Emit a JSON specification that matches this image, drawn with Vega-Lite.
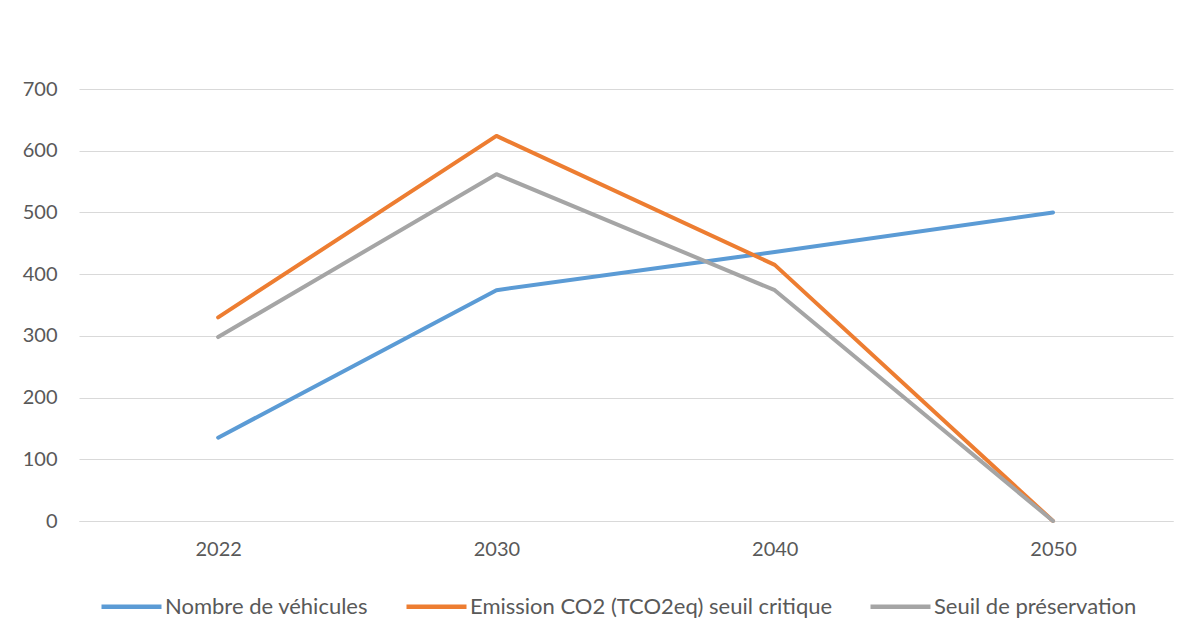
{
  "$schema": "https://vega.github.io/schema/vega-lite/v6.json",
  "width": 1094,
  "height": 432,
  "autosize": "none",
  "padding": {"left": 79, "top": 89, "right": 11, "bottom": 105},
  "background": "white",
  "config": {
    "view": {"stroke": null},
    "font": "Lato",
    "axis": {"labelFont": "Lato", "labelColor": "#595959", "labelFontSize": 20, "title": null}
  },
  "data": {
    "values": [
      {"year": "2022", "series": "Nombre de véhicules", "value": 135},
      {"year": "2030", "series": "Nombre de véhicules", "value": 374},
      {"year": "2040", "series": "Nombre de véhicules", "value": 436},
      {"year": "2050", "series": "Nombre de véhicules", "value": 500},
      {"year": "2022", "series": "Emission CO2 (TCO2eq) seuil critique", "value": 330},
      {"year": "2030", "series": "Emission CO2 (TCO2eq) seuil critique", "value": 624},
      {"year": "2040", "series": "Emission CO2 (TCO2eq) seuil critique", "value": 415},
      {"year": "2050", "series": "Emission CO2 (TCO2eq) seuil critique", "value": 0},
      {"year": "2022", "series": "Seuil de préservation", "value": 298},
      {"year": "2030", "series": "Seuil de préservation", "value": 562},
      {"year": "2040", "series": "Seuil de préservation", "value": 374},
      {"year": "2050", "series": "Seuil de préservation", "value": 0}
    ]
  },
  "mark": {"type": "line", "strokeWidth": 4, "strokeJoin": "round", "strokeCap": "round"},
  "encoding": {
    "x": {
      "field": "year", "type": "ordinal",
      "scale": {"type": "point", "padding": 0.4655, "align": 0.537},
      "axis": {"labelAngle": 0, "ticks": false, "domain": true, "domainColor": "#D9D9D9", "labelPadding": 18, "grid": false}
    },
    "y": {
      "field": "value", "type": "quantitative",
      "scale": {"domain": [0, 700], "nice": false},
      "axis": {"values": [0, 100, 200, 300, 400, 500, 600, 700], "ticks": false, "domain": false, "grid": true, "gridColor": "#D9D9D9", "gridWidth": 1, "labelPadding": 22}
    },
    "color": {
      "field": "series", "type": "nominal",
      "scale": {
        "domain": ["Nombre de véhicules", "Emission CO2 (TCO2eq) seuil critique", "Seuil de préservation"],
        "range": ["#5B9BD5", "#ED7D31", "#A5A5A5"]
      },
      "legend": {
        "orient": "none", "legendX": 20, "legendY": 485, "direction": "horizontal", "title": null,
        "symbolType": "stroke", "symbolSize": 3600, "symbolStrokeWidth": 4.5,
        "labelFont": "Lato", "labelFontSize": 22, "labelColor": "#595959",
        "labelOffset": 1, "columnPadding": 28, "labelLimit": 500
      }
    }
  }
}
